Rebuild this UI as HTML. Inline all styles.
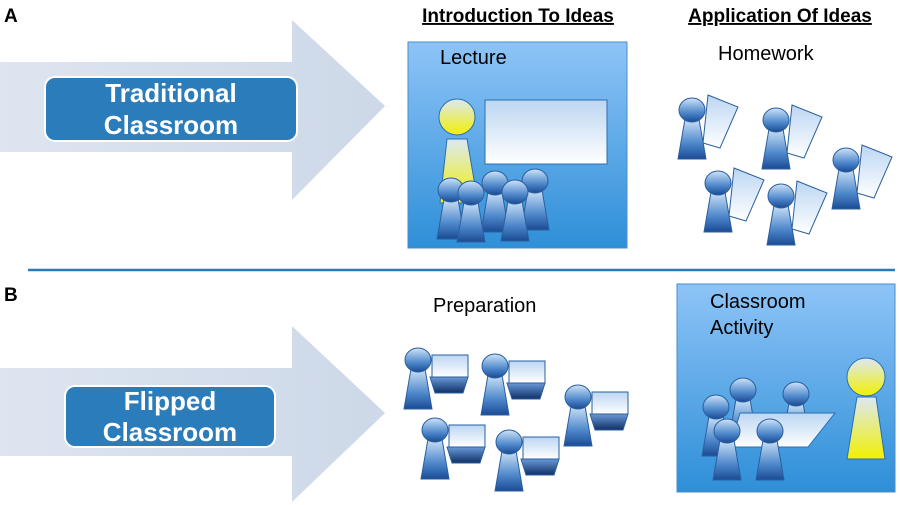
<!DOCTYPE html>
<html><head><meta charset="utf-8"><style>
html,body{margin:0;padding:0;background:#fff;}
svg{display:block;font-family:"Liberation Sans",sans-serif;}
</style></head><body>
<svg width="900" height="505" viewBox="0 0 900 505" xmlns="http://www.w3.org/2000/svg">
<defs>
<linearGradient id="box" x1="0" y1="0" x2="0" y2="1"><stop offset="0" stop-color="#8ec4f7"/><stop offset="1" stop-color="#2e8fd8"/></linearGradient>
<linearGradient id="pb" x1="0" y1="0" x2="0" y2="1"><stop offset="0" stop-color="#cfe3f8"/><stop offset="0.6" stop-color="#4f89cc"/><stop offset="1" stop-color="#1a4a94"/></linearGradient>
<linearGradient id="yl" x1="0" y1="0" x2="0" y2="1"><stop offset="0" stop-color="#dce8f5"/><stop offset="1" stop-color="#f2f000"/></linearGradient>
<linearGradient id="wh" x1="0" y1="0" x2="0" y2="1"><stop offset="0" stop-color="#bcd6f2"/><stop offset="1" stop-color="#ffffff"/></linearGradient>
<linearGradient id="dk" x1="0" y1="0" x2="0" y2="1"><stop offset="0" stop-color="#6a9ad6"/><stop offset="1" stop-color="#0f2f66"/></linearGradient>
<linearGradient id="ar" x1="0" y1="0" x2="1" y2="0"><stop offset="0" stop-color="#dde5f0"/><stop offset="1" stop-color="#cdd8e8"/></linearGradient>
<g id="p">
<polygon points="-7,9 7,9 14,49 -14,49" fill="url(#pb)" stroke="#2b5f9e" stroke-width="1"/>
<ellipse rx="13" ry="12" cx="0" cy="0" fill="url(#pb)" stroke="#2b5f9e" stroke-width="1"/>
</g>
<g id="hw">
<polygon points="16,-15 46,-3 28,38 11,33" fill="url(#wh)" stroke="#2b5f9e" stroke-width="1"/>
<use href="#p"/>
</g>
<g id="lp">
<rect x="14" y="-5" width="36" height="22" fill="url(#wh)" stroke="#2b5f9e" stroke-width="1"/>
<polygon points="12,17 50,17 45,33 17,33" fill="url(#dk)" stroke="#2b5f9e" stroke-width="1"/>
<use href="#p"/>
</g>
</defs>

<polygon points="0,62 292,62 292,20 385,106 292,200 292,152 0,152" fill="url(#ar)"/>
<polygon points="0,368 292,368 292,326 385,413 292,502 292,456 0,456" fill="url(#ar)"/>

<rect x="45" y="77" width="252" height="64" rx="10" fill="#2a7dba" stroke="#ffffff" stroke-width="2"/>
<text x="171" y="102" fill="#fff" font-size="26" font-weight="bold" text-anchor="middle">Traditional</text>
<text x="171" y="134" fill="#fff" font-size="26" font-weight="bold" text-anchor="middle">Classroom</text>
<rect x="65" y="386" width="210" height="61" rx="10" fill="#2a7dba" stroke="#ffffff" stroke-width="2"/>
<text x="170" y="410" fill="#fff" font-size="26" font-weight="bold" text-anchor="middle">Flipped</text>
<text x="170" y="441" fill="#fff" font-size="26" font-weight="bold" text-anchor="middle">Classroom</text>

<text x="4" y="22" font-size="19" font-weight="bold">A</text>
<text x="4" y="301" font-size="19" font-weight="bold">B</text>
<text x="518" y="22" font-size="19" font-weight="bold" text-anchor="middle" text-decoration="underline">Introduction To Ideas</text>
<text x="780" y="22" font-size="19" font-weight="bold" text-anchor="middle" text-decoration="underline">Application Of Ideas</text>
<line x1="28" y1="270" x2="895" y2="270" stroke="#2a7ab8" stroke-width="2.5"/>

<rect x="408" y="42" width="219" height="206" fill="url(#box)" stroke="#4a8ccc"/>
<text x="440" y="64" font-size="20">Lecture</text>
<rect x="485" y="100" width="122" height="64" fill="url(#wh)" stroke="#2b6fb0"/>
<polygon points="447,139 467,139 478,203 440,203" fill="url(#yl)" stroke="#2b6fb0"/>
<circle cx="457" cy="117" r="18" fill="url(#yl)" stroke="#2b6fb0"/>
<use href="#p" x="495" y="183"/>
<use href="#p" x="535" y="181"/>
<use href="#p" x="451" y="190"/>
<use href="#p" x="471" y="193"/>
<use href="#p" x="515" y="192"/>

<text x="718" y="60" font-size="20">Homework</text>
<use href="#hw" x="692" y="110"/>
<use href="#hw" x="776" y="120"/>
<use href="#hw" x="846" y="160"/>
<use href="#hw" x="718" y="183"/>
<use href="#hw" x="781" y="196"/>

<text x="433" y="312" font-size="20">Preparation</text>
<use href="#lp" x="418" y="360"/>
<use href="#lp" x="495" y="366"/>
<use href="#lp" x="578" y="397"/>
<use href="#lp" x="435" y="430"/>
<use href="#lp" x="509" y="442"/>

<rect x="677" y="284" width="218" height="208" fill="url(#box)" stroke="#4a8ccc"/>
<text x="710" y="308" font-size="20">Classroom</text>
<text x="710" y="334" font-size="20">Activity</text>
<use href="#p" x="743" y="390"/>
<use href="#p" x="796" y="394"/>
<use href="#p" x="716" y="407"/>
<polygon points="740,413 835,413 808,447 730,447" fill="url(#wh)" stroke="#2b6fb0"/>
<use href="#p" x="727" y="431"/>
<use href="#p" x="770" y="431"/>
<polygon points="857,397 876,397 885,459 847,459" fill="url(#yl)" stroke="#2b6fb0"/>
<circle cx="866" cy="377" r="19" fill="url(#yl)" stroke="#2b6fb0"/>
</svg>
</body></html>
